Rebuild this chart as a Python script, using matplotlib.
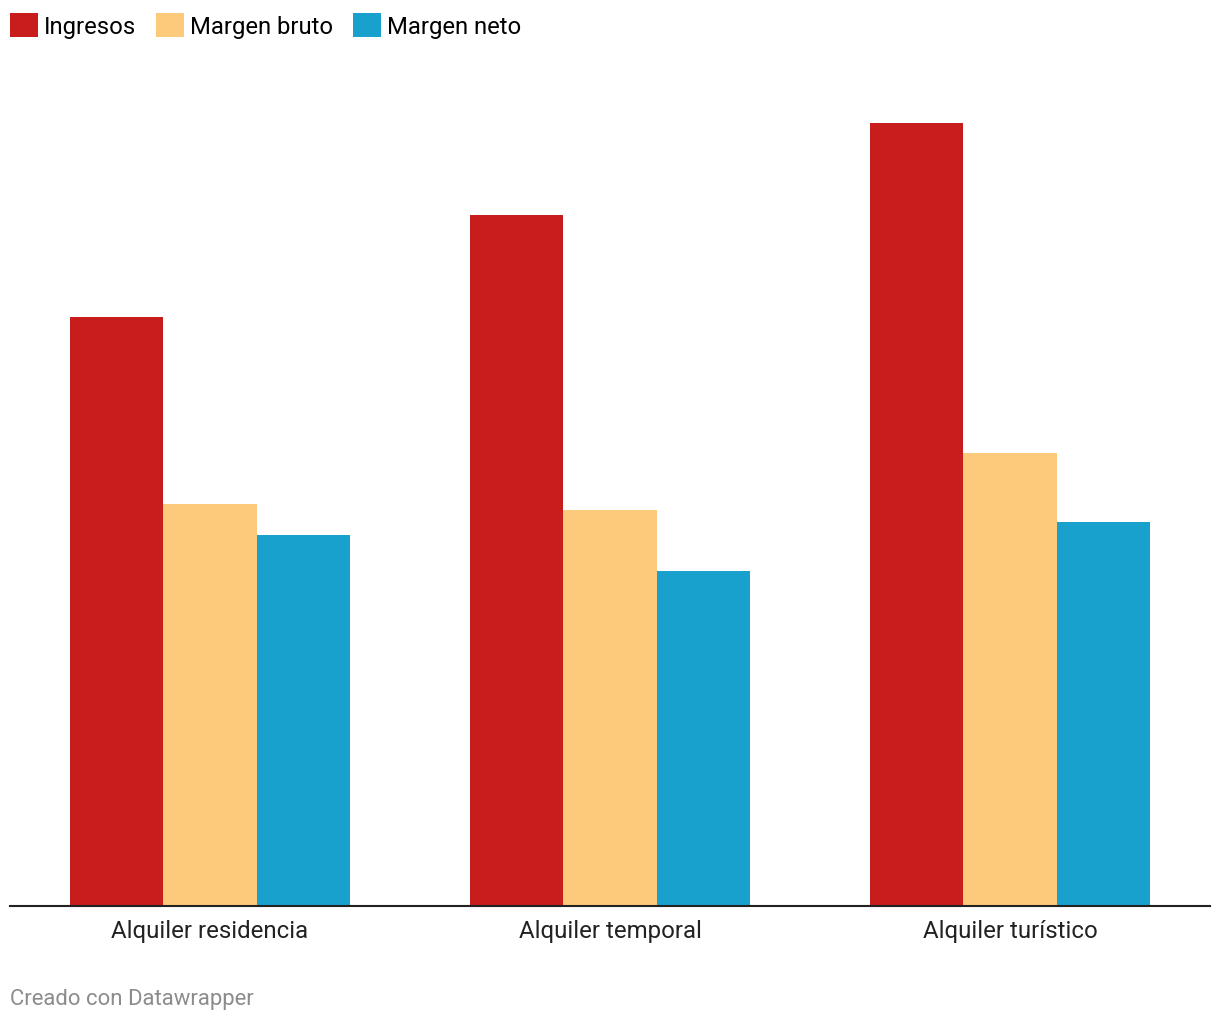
import matplotlib
matplotlib.use("Agg")
import matplotlib.pyplot as plt
import numpy as np

categories = ["Alquiler residencia", "Alquiler temporal", "Alquiler turístico"]
series_names = ["Ingresos", "Margen bruto", "Margen neto"]
ingresos = [589, 691, 783]
margen_bruto = [402, 396, 453]
margen_neto = [371, 335, 384]
colors = ["#c71e1d", "#fdca7b", "#18a1cd"]

plt.rcParams['font.family'] = ['Roboto', 'DejaVu Sans']

W, H = 1220, 1020
fig = plt.figure(figsize=(W / 100, H / 100), dpi=100)
ax = fig.add_axes([10 / W, (H - 906.5) / H, 1200 / W, (906.5 - 100.5) / H])

x = np.arange(len(categories))
bw = 93.5 / 400
for i, (vals, name, c) in enumerate(zip([ingresos, margen_bruto, margen_neto], series_names, colors)):
    ax.bar(x + (i - 1) * bw, vals, width=bw, color=c, label=name, linewidth=0)

ax.set_xlim(-0.5, 2.5)
ax.set_ylim(0, 806)
for s in ["top", "right", "left"]:
    ax.spines[s].set_visible(False)
ax.spines["bottom"].set_linewidth(1.5)
ax.spines["bottom"].set_color("#222222")
ax.set_yticks([])
ax.set_xticks(x)
ax.set_xticklabels(categories, fontsize=17.3, color="#222222")
ax.tick_params(axis="x", length=0, pad=9.5)

fig.legend(loc="upper left", bbox_to_anchor=(10 / W, 1 - 13.5 / H), ncol=3, frameon=False,
           fontsize=17.2, handlelength=1.17, handleheight=1.17, handletextpad=0.25,
           columnspacing=0.83, borderpad=0, borderaxespad=0)

fig.text(10 / W, 1 - 999.5 / H, "Creado con Datawrapper", fontsize=15.9, color="#8c8c8c",
         va="center", ha="left")

fig.savefig("out.png", dpi=100, facecolor="white")
